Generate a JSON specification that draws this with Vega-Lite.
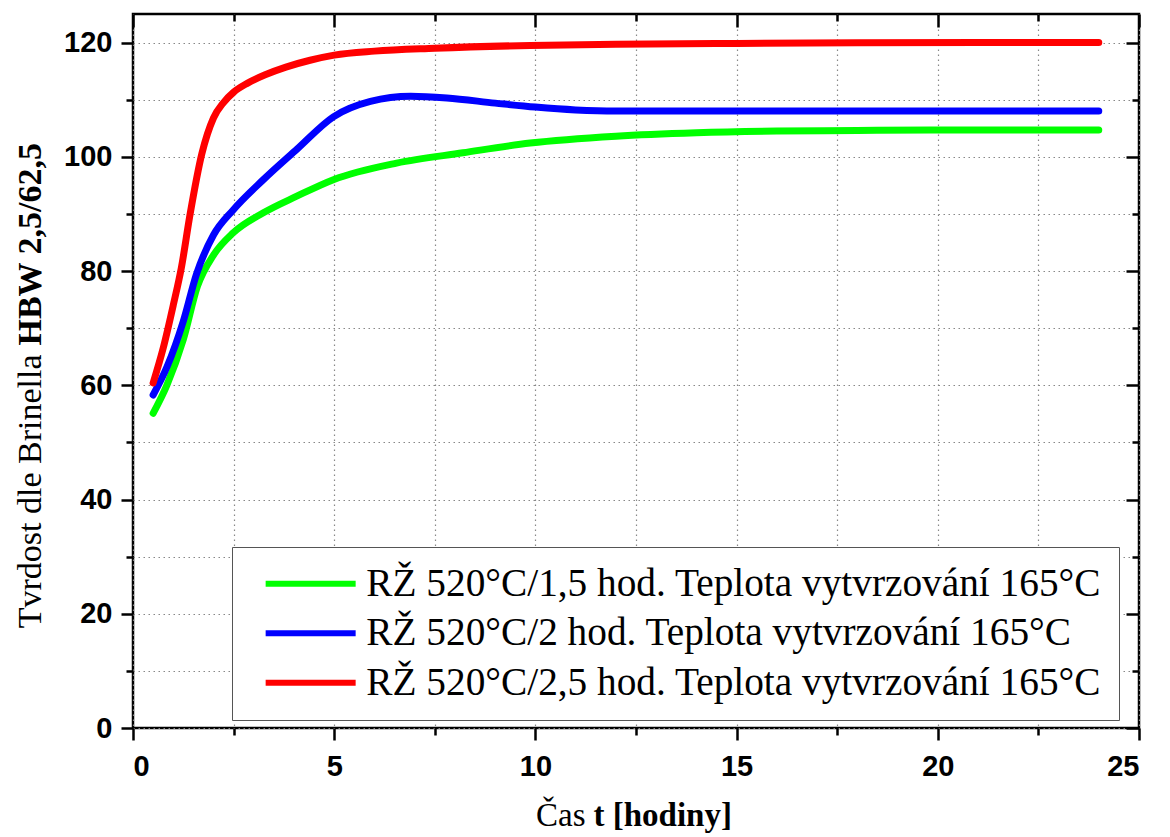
{
  "$schema": "https://vega.github.io/schema/vega-lite/v6.json",
  "width": 1006,
  "height": 714,
  "autosize": {"type": "none"},
  "padding": {"left": 133, "top": 14, "right": 31, "bottom": 109},
  "background": "white",
  "config": {"view": {"stroke": "black", "strokeWidth": 2.5}, "axis": {"domain": false}},
  "datasets": {
    "d": [
      {"s": "RŽ 520°C/1,5 hod. Teplota vytvrzování 165°C", "t": 0.5, "v": 55.1},
      {"s": "RŽ 520°C/1,5 hod. Teplota vytvrzování 165°C", "t": 0.84, "v": 60.0},
      {"s": "RŽ 520°C/1,5 hod. Teplota vytvrzování 165°C", "t": 1.25, "v": 68.0},
      {"s": "RŽ 520°C/1,5 hod. Teplota vytvrzování 165°C", "t": 1.6, "v": 77.3},
      {"s": "RŽ 520°C/1,5 hod. Teplota vytvrzování 165°C", "t": 2.0, "v": 82.8},
      {"s": "RŽ 520°C/1,5 hod. Teplota vytvrzování 165°C", "t": 2.49, "v": 86.7},
      {"s": "RŽ 520°C/1,5 hod. Teplota vytvrzování 165°C", "t": 3.24, "v": 90.2},
      {"s": "RŽ 520°C/1,5 hod. Teplota vytvrzování 165°C", "t": 4.07, "v": 93.1},
      {"s": "RŽ 520°C/1,5 hod. Teplota vytvrzování 165°C", "t": 4.98, "v": 96.0},
      {"s": "RŽ 520°C/1,5 hod. Teplota vytvrzování 165°C", "t": 6.55, "v": 98.9},
      {"s": "RŽ 520°C/1,5 hod. Teplota vytvrzování 165°C", "t": 8.2, "v": 100.7},
      {"s": "RŽ 520°C/1,5 hod. Teplota vytvrzování 165°C", "t": 9.87, "v": 102.4},
      {"s": "RŽ 520°C/1,5 hod. Teplota vytvrzování 165°C", "t": 12, "v": 103.6},
      {"s": "RŽ 520°C/1,5 hod. Teplota vytvrzování 165°C", "t": 14, "v": 104.2},
      {"s": "RŽ 520°C/1,5 hod. Teplota vytvrzování 165°C", "t": 16, "v": 104.5},
      {"s": "RŽ 520°C/1,5 hod. Teplota vytvrzování 165°C", "t": 18, "v": 104.6},
      {"s": "RŽ 520°C/1,5 hod. Teplota vytvrzování 165°C", "t": 20, "v": 104.7},
      {"s": "RŽ 520°C/1,5 hod. Teplota vytvrzování 165°C", "t": 22, "v": 104.7},
      {"s": "RŽ 520°C/1,5 hod. Teplota vytvrzování 165°C", "t": 24, "v": 104.7},
      {"s": "RŽ 520°C/2 hod. Teplota vytvrzování 165°C", "t": 0.5, "v": 58.3},
      {"s": "RŽ 520°C/2 hod. Teplota vytvrzování 165°C", "t": 0.85, "v": 63.3},
      {"s": "RŽ 520°C/2 hod. Teplota vytvrzování 165°C", "t": 1.25, "v": 71.2},
      {"s": "RŽ 520°C/2 hod. Teplota vytvrzování 165°C", "t": 1.58, "v": 79.5},
      {"s": "RŽ 520°C/2 hod. Teplota vytvrzování 165°C", "t": 2.0, "v": 86.3},
      {"s": "RŽ 520°C/2 hod. Teplota vytvrzování 165°C", "t": 2.49, "v": 90.7},
      {"s": "RŽ 520°C/2 hod. Teplota vytvrzování 165°C", "t": 3.24, "v": 96.0},
      {"s": "RŽ 520°C/2 hod. Teplota vytvrzování 165°C", "t": 4.07, "v": 101.3},
      {"s": "RŽ 520°C/2 hod. Teplota vytvrzování 165°C", "t": 4.98, "v": 107.0},
      {"s": "RŽ 520°C/2 hod. Teplota vytvrzování 165°C", "t": 5.9, "v": 109.7},
      {"s": "RŽ 520°C/2 hod. Teplota vytvrzování 165°C", "t": 6.9, "v": 110.6},
      {"s": "RŽ 520°C/2 hod. Teplota vytvrzování 165°C", "t": 7.8, "v": 110.3},
      {"s": "RŽ 520°C/2 hod. Teplota vytvrzování 165°C", "t": 9.0, "v": 109.4},
      {"s": "RŽ 520°C/2 hod. Teplota vytvrzování 165°C", "t": 10.0, "v": 108.7},
      {"s": "RŽ 520°C/2 hod. Teplota vytvrzování 165°C", "t": 11.0, "v": 108.2},
      {"s": "RŽ 520°C/2 hod. Teplota vytvrzování 165°C", "t": 12.0, "v": 108.0},
      {"s": "RŽ 520°C/2 hod. Teplota vytvrzování 165°C", "t": 15.0, "v": 108.0},
      {"s": "RŽ 520°C/2 hod. Teplota vytvrzování 165°C", "t": 18.0, "v": 108.0},
      {"s": "RŽ 520°C/2 hod. Teplota vytvrzování 165°C", "t": 21.0, "v": 108.0},
      {"s": "RŽ 520°C/2 hod. Teplota vytvrzování 165°C", "t": 24.0, "v": 108.0},
      {"s": "RŽ 520°C/2,5 hod. Teplota vytvrzování 165°C", "t": 0.5, "v": 60.4},
      {"s": "RŽ 520°C/2,5 hod. Teplota vytvrzování 165°C", "t": 0.75, "v": 66.5},
      {"s": "RŽ 520°C/2,5 hod. Teplota vytvrzování 165°C", "t": 1.0, "v": 74.0},
      {"s": "RŽ 520°C/2,5 hod. Teplota vytvrzování 165°C", "t": 1.2, "v": 80.5},
      {"s": "RŽ 520°C/2,5 hod. Teplota vytvrzování 165°C", "t": 1.42, "v": 90.0},
      {"s": "RŽ 520°C/2,5 hod. Teplota vytvrzování 165°C", "t": 1.71, "v": 100.5},
      {"s": "RŽ 520°C/2,5 hod. Teplota vytvrzování 165°C", "t": 2.0, "v": 106.8},
      {"s": "RŽ 520°C/2,5 hod. Teplota vytvrzování 165°C", "t": 2.25, "v": 109.5},
      {"s": "RŽ 520°C/2,5 hod. Teplota vytvrzování 165°C", "t": 2.5, "v": 111.3},
      {"s": "RŽ 520°C/2,5 hod. Teplota vytvrzování 165°C", "t": 2.85, "v": 112.9},
      {"s": "RŽ 520°C/2,5 hod. Teplota vytvrzování 165°C", "t": 3.3, "v": 114.4},
      {"s": "RŽ 520°C/2,5 hod. Teplota vytvrzování 165°C", "t": 3.8, "v": 115.7},
      {"s": "RŽ 520°C/2,5 hod. Teplota vytvrzování 165°C", "t": 4.4, "v": 116.9},
      {"s": "RŽ 520°C/2,5 hod. Teplota vytvrzování 165°C", "t": 5.0, "v": 117.8},
      {"s": "RŽ 520°C/2,5 hod. Teplota vytvrzování 165°C", "t": 6.0, "v": 118.5},
      {"s": "RŽ 520°C/2,5 hod. Teplota vytvrzování 165°C", "t": 7.5, "v": 119.0},
      {"s": "RŽ 520°C/2,5 hod. Teplota vytvrzování 165°C", "t": 9.87, "v": 119.5},
      {"s": "RŽ 520°C/2,5 hod. Teplota vytvrzování 165°C", "t": 12.0, "v": 119.7},
      {"s": "RŽ 520°C/2,5 hod. Teplota vytvrzování 165°C", "t": 15.0, "v": 119.85},
      {"s": "RŽ 520°C/2,5 hod. Teplota vytvrzování 165°C", "t": 18.0, "v": 119.95},
      {"s": "RŽ 520°C/2,5 hod. Teplota vytvrzování 165°C", "t": 21.0, "v": 120.0},
      {"s": "RŽ 520°C/2,5 hod. Teplota vytvrzování 165°C", "t": 24.0, "v": 120.0}
    ]
  },
  "data": {"name": "d"},
  "layer": [
    {
      "mark": {"type": "line", "strokeWidth": 7, "strokeCap": "round", "interpolate": "monotone"},
      "encoding": {
        "x": {
          "field": "t", "type": "quantitative",
          "scale": {"domain": [0, 25], "nice": false},
          "axis": {
            "orient": "bottom",
            "values": [0, 2.5, 5, 7.5, 10, 12.5, 15, 17.5, 20, 22.5, 25],
            "labelExpr": "datum.value % 5 === 0 ? datum.label : ''",
            "labelFont": "Liberation Sans", "labelFontWeight": "bold", "labelFontSize": 29, "labelColor": "black",
            "tickColor": "black", "tickWidth": 2.5,
            "tickSize": {"condition": {"test": "datum.value % 5 !== 0", "value": 7}, "value": 12},
            "labelPadding": 12,
            "grid": true, "gridDash": [1.5, 3.5], "gridColor": "#888", "gridWidth": 1.2,
            "title": "Čas", "titleFont": "Liberation Serif", "titleFontSize": 33, "titleFontWeight": "normal",
            "titleColor": "black", "titleAlign": "right", "titleBaseline": "alphabetic",
            "titleX": 452, "titleY": 97
          }
        },
        "y": {
          "field": "v", "type": "quantitative",
          "scale": {"domain": [0, 125], "nice": false},
          "axis": {
            "orient": "left",
            "values": [0, 10, 20, 30, 40, 50, 60, 70, 80, 90, 100, 110, 120],
            "labelExpr": "datum.value % 20 === 0 ? datum.label : ''",
            "labelFont": "Liberation Sans", "labelFontWeight": "bold", "labelFontSize": 29, "labelColor": "black",
            "tickColor": "black", "tickWidth": 2.5,
            "tickSize": {"condition": {"test": "datum.value % 20 !== 0", "value": 7}, "value": 12},
            "labelPadding": 9,
            "grid": true, "gridDash": [1.5, 3.5], "gridColor": "#888", "gridWidth": 1.2,
            "title": "Tvrdost dle Brinella", "titleFont": "Liberation Serif", "titleFontSize": 34, "titleFontWeight": "normal",
            "titleColor": "black", "titleAngle": 270, "titleAlign": "right", "titleBaseline": "alphabetic",
            "titleX": -93, "titleY": 340
          }
        },
        "color": {
          "field": "s", "type": "nominal",
          "scale": {
            "domain": ["RŽ 520°C/1,5 hod. Teplota vytvrzování 165°C", "RŽ 520°C/2 hod. Teplota vytvrzování 165°C", "RŽ 520°C/2,5 hod. Teplota vytvrzování 165°C"],
            "range": ["#00ff00", "#0000ff", "#ff0000"]
          },
          "legend": {
            "orient": "none", "legendX": 99, "legendY": 533,
            "title": null,
            "symbolType": "M-3,0H3", "symbolSize": 900, "symbolStrokeWidth": 6,
            "symbolOffset": 42, "labelOffset": 36,
            "labelFont": "Liberation Serif", "labelFontSize": 39.3, "labelColor": "black", "labelLimit": 1200,
            "rowPadding": 9.5, "padding": 17,
            "fillColor": "white", "strokeColor": "#555"
          }
        }
      }
    },
    {
      "mark": {"type": "line", "opacity": 0},
      "encoding": {
        "x": {
          "field": "t", "type": "quantitative",
          "axis": {
            "orient": "top", "labels": false, "grid": false, "title": null,
            "values": [0, 2.5, 5, 7.5, 10, 12.5, 15, 17.5, 20, 22.5, 25],
            "tickColor": "black", "tickWidth": 2.5,
            "tickSize": {"condition": {"test": "datum.value % 5 !== 0", "value": -7}, "value": -13}
          }
        },
        "y": {
          "field": "v", "type": "quantitative",
          "axis": {
            "orient": "right", "labels": false, "grid": false, "title": null,
            "values": [0, 10, 20, 30, 40, 50, 60, 70, 80, 90, 100, 110, 120],
            "tickColor": "black", "tickWidth": 2.5,
            "tickSize": {"condition": {"test": "datum.value % 20 !== 0", "value": -7}, "value": -13}
          }
        }
      }
    },
    {
      "mark": {"type": "line", "opacity": 0},
      "encoding": {
        "x": {
          "field": "t", "type": "quantitative",
          "axis": {
            "orient": "bottom", "labels": false, "ticks": false, "grid": false,
            "title": "t [hodiny]", "titleFont": "Liberation Serif", "titleFontSize": 33, "titleFontWeight": "bold",
            "titleColor": "black", "titleAlign": "left", "titleBaseline": "alphabetic",
            "titleX": 460, "titleY": 97
          }
        },
        "y": {
          "field": "v", "type": "quantitative",
          "axis": {
            "orient": "left", "labels": false, "ticks": false, "grid": false,
            "title": "HBW 2,5/62,5", "titleFont": "Liberation Serif", "titleFontSize": 34, "titleFontWeight": "bold",
            "titleColor": "black", "titleAngle": 270, "titleAlign": "left", "titleBaseline": "alphabetic",
            "titleX": -93, "titleY": 331
          }
        }
      }
    }
  ],
  "resolve": {"axis": {"x": "independent", "y": "independent"}}
}
